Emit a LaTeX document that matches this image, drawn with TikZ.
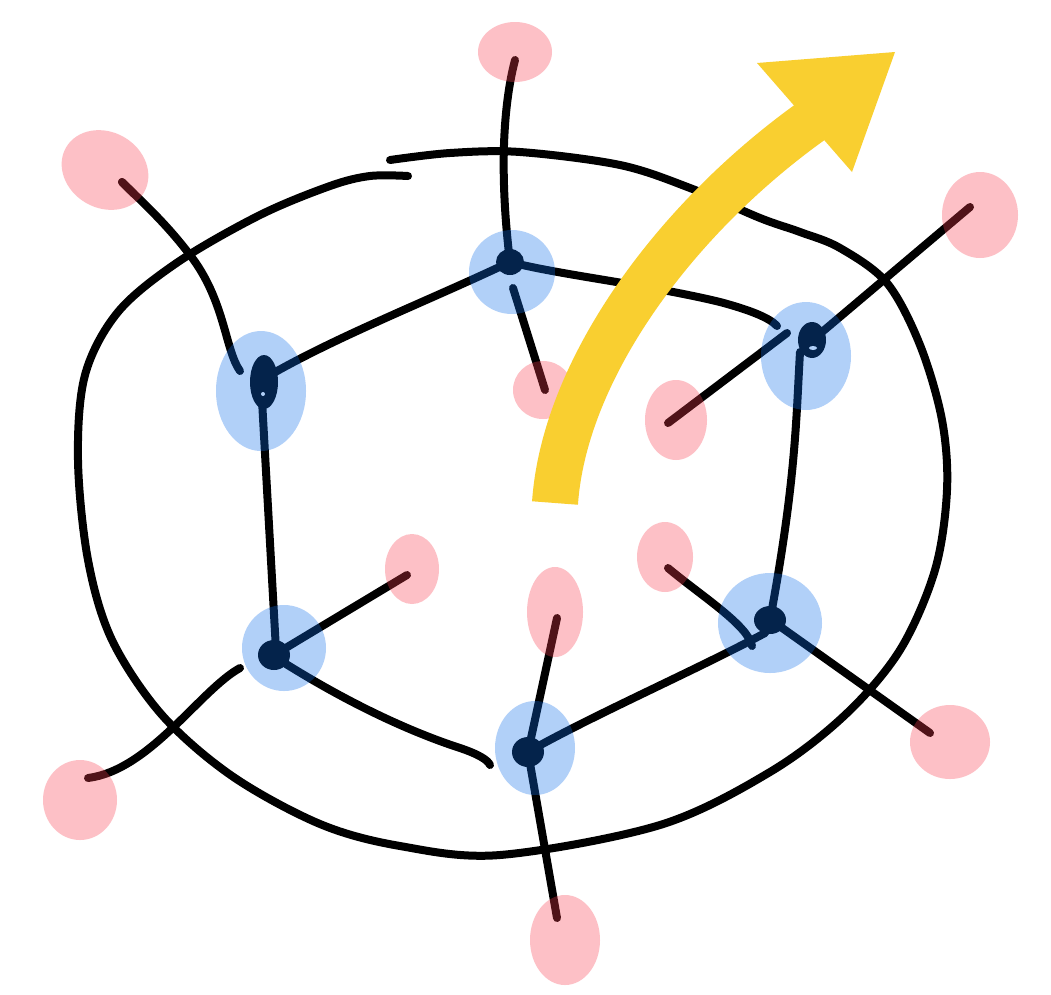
\documentclass[tikz,border=0pt]{standalone}
\begin{document}
\begin{tikzpicture}[x=1pt,y=-1pt,
  ink/.style={draw=black,line width=8pt,line cap=round,line join=round},
  pinkblob/.style={fill={rgb,255:red,250;green,62;blue,78},fill opacity=0.32,draw=none},
  blueblob/.style={fill={rgb,255:red,15;green,110;blue,235},fill opacity=0.32,draw=none},
  yel/.style={color={rgb,255:red,249;green,207;blue,48}}]
\useasboundingbox (0,0) rectangle (1051,994);
\fill[white] (0,0) rectangle (1051,994);

% hexagon vertices
\coordinate (T) at (510,262);
\coordinate (L) at (264,382);
\coordinate (R) at (812,340);
\coordinate (BL) at (274,655);
\coordinate (B) at (528,752);
\coordinate (BR) at (770,620);

% pink targets
\coordinate (p1) at (515,60);
\coordinate (p2) at (122,182);
\coordinate (p3) at (970,207);
\coordinate (p4) at (545,390);
\coordinate (p5) at (668,423);
\coordinate (p6) at (407,575);
\coordinate (p7) at (557,618);
\coordinate (p8) at (668,568);
\coordinate (p9) at (88,778);
\coordinate (p10) at (930,733);
\coordinate (p11) at (557,918);

% outer loop
\draw[ink] plot[smooth,tension=0.55] coordinates {(390,160) (450,153) (520,152) (620,165) (690,188) (760,218) (800,232) (840,248) (887,283) (920,345) (942,420) (947,490) (935,570) (900,650) (845,715) (770,772) (660,825) (500,855) (400,846) (320,824) (232,776) (162,715) (112,640) (88,560) (78,460) (85,375) (118,312) (178,262) (260,215) (330,186) (370,176) (408,176)};

% spokes
\draw[ink] (T) .. controls (500,180) and (502,110) .. (p1);
\draw[ink] (513,288) -- (p4);
\draw[ink] (240,371) .. controls (225,350) and (225,300) .. (190,255) .. controls (165,222) and (140,200) .. (p2);
\draw[ink] (122,182) -- (134,194);
\draw[ink] (822,332) -- (p3);
\draw[ink] (787,333) -- (p5);
\draw[ink] (BL) -- (p6);
\draw[ink] (240,668) .. controls (200,690) and (150,770) .. (p9);
\draw[ink] (B) -- (p7);
\draw[ink] (B) -- (p11);
\draw[ink] (p8) .. controls (700,595) and (748,625) .. (752,646);
\draw[ink] (778,625) -- (p10);

% hexagon edges
\draw[ink] (T) .. controls (430,300) and (340,335) .. (270,375);
\draw[ink] (T) .. controls (560,275) and (650,285) .. (720,302) .. controls (750,310) and (770,318) .. (777,326);
\draw[ink] (800,352) .. controls (796,420) and (796,480) .. (BR);
\draw[ink] (262,400) -- (276,650);
\draw[ink] (286,664) .. controls (360,710) and (420,735) .. (460,748) .. controls (478,754) and (488,760) .. (490,765);
\draw[ink] (535,748) .. controls (600,712) and (700,668) .. (765,633);

% node dots
\fill[black] (T) ellipse [x radius=14,y radius=13];
\fill[black] (L) ellipse [x radius=14,y radius=27];
\fill[white] (263,394) circle (2);
\fill[black] (R) ellipse [x radius=14,y radius=18];
\fill[white] (813,348) ellipse [x radius=4,y radius=2];
\fill[black] (BL) ellipse [x radius=16,y radius=15];
\fill[black] (B) ellipse [x radius=16,y radius=15];
\fill[black] (BR) ellipse [x radius=16,y radius=14];

% blue blobs
\path[blueblob] (512,272) ellipse [x radius=43,y radius=42];
\path[blueblob] (261,391) ellipse [x radius=45,y radius=60];
\path[blueblob] (806,356) ellipse [x radius=45,y radius=54];
\path[blueblob] (284,648) ellipse [x radius=42,y radius=43];
\path[blueblob] (535,748) ellipse [x radius=40,y radius=47];
\path[blueblob] (770,623) ellipse [x radius=52,y radius=50];

% pink blobs
\path[pinkblob] (515,52) ellipse [x radius=37,y radius=30];
\path[pinkblob, rotate around={-30:(105,170)}] (105,170) ellipse [x radius=45,y radius=38];
\path[pinkblob] (980,215) ellipse [x radius=38,y radius=43];
\path[pinkblob] (543,390) ellipse [x radius=30,y radius=29];
\path[pinkblob] (676,420) ellipse [x radius=31,y radius=40];
\path[pinkblob] (412,569) ellipse [x radius=27,y radius=35];
\path[pinkblob] (555,612) ellipse [x radius=28,y radius=45];
\path[pinkblob] (665,557) ellipse [x radius=28,y radius=35];
\path[pinkblob] (80,800) ellipse [x radius=37,y radius=40];
\path[pinkblob] (950,742) ellipse [x radius=40,y radius=37];
\path[pinkblob] (565,940) ellipse [x radius=35,y radius=45];

% yellow arrow
\draw[yel,line width=46pt] (555,503) .. controls (565,360) and (690,200) .. (835,105);
\fill[yel] (757,63) -- (895,52) -- (852,172) -- cycle;
\end{tikzpicture}
\end{document}
